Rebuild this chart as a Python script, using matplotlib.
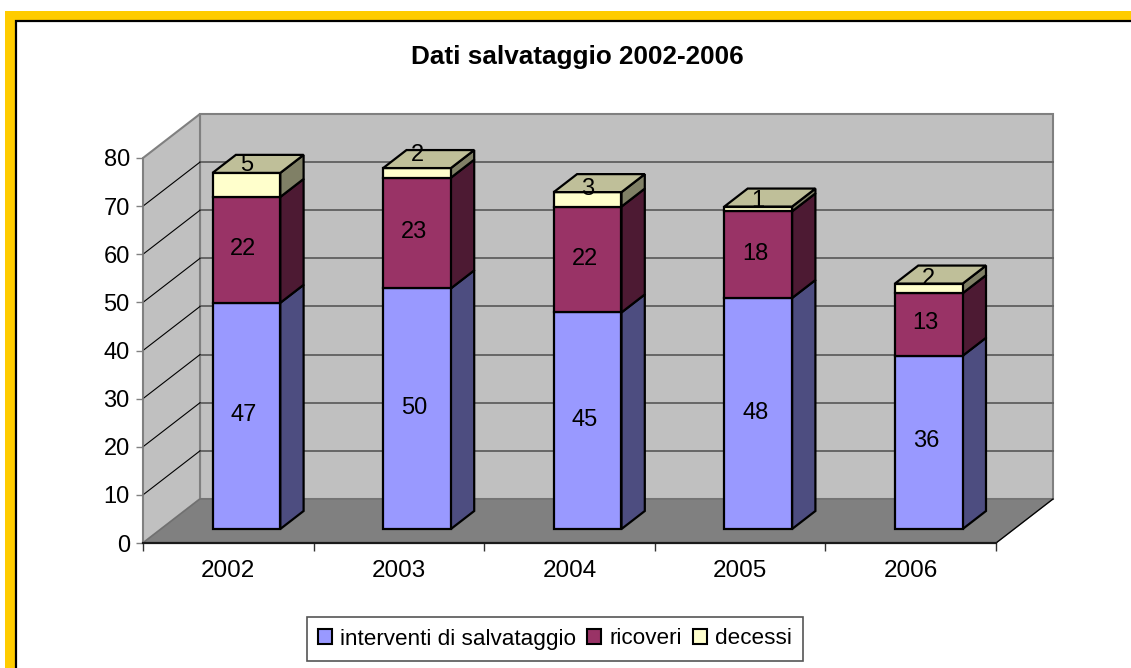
import matplotlib
matplotlib.use("Agg")
import matplotlib.pyplot as plt
from matplotlib.patches import Patch, Rectangle

plt.rcParams['font.family'] = ['Liberation Sans', 'DejaVu Sans']

years = ["2002", "2003", "2004", "2005", "2006"]
interventi = [47, 50, 45, 48, 36]
ricoveri = [22, 23, 22, 18, 13]
decessi = [5, 2, 3, 1, 2]
series_names = ["interventi di salvataggio", "ricoveri", "decessi"]
y_ticks = [0, 10, 20, 30, 40, 50, 60, 70, 80]

front_colors = ["#9999FF", "#993366", "#FFFFCC"]
side_colors = ["#4D4D80", "#4D1A33", "#808066"]
top_color = "#BFBF99"

W, H = 1131, 668
# oblique depth of the whole box, in data units of the front plane
DX = 57 / 170.6
DY = 44 / 4.81
BAR_W = 0.397
D0, D1 = 0.318, 0.727


def pt(x, y, depth=0.0):
    return x + depth * DX, y + depth * DY


def poly(ax, pts, color, edge=None, lw=0, z=1):
    ax.fill([p[0] for p in pts], [p[1] for p in pts], facecolor=color,
            edgecolor=edge if edge else color, linewidth=lw, zorder=z,
            clip_on=False, joinstyle="miter")


fig = plt.figure(figsize=(W / 100, H / 100), dpi=100)

# yellow frame behind everything
frame = fig.add_axes([0, 0, 1, 1])
frame.set_xlim(0, W)
frame.set_ylim(H, 0)
frame.axis("off")
frame.add_patch(Rectangle((5, 11), W, H, facecolor="#FFCC00", edgecolor="none"))
frame.add_patch(Rectangle((15.5, 20.5), W, H, facecolor="white", edgecolor="black", linewidth=1.6))

ax = fig.add_axes([143 / W, 1 - 543 / H, 853 / W, 385 / H])
ax.set_xlim(0, 5)
ax.set_ylim(0, 80)
ax.patch.set_visible(False)

# walls and floor
poly(ax, [pt(0, 0, 1), pt(5, 0, 1), pt(5, 80, 1), pt(0, 80, 1)], "#C0C0C0", "#808080", 1.5, 1)
poly(ax, [(0, 0), pt(0, 0, 1), pt(0, 80, 1), (0, 80)], "#C0C0C0", "#808080", 1.5, 1)
poly(ax, [(0, 0), (5, 0), pt(5, 0, 1), pt(0, 0, 1)], "#808080", "#707070", 1, 2)
ax.plot([5, pt(5, 0, 1)[0]], [0, pt(5, 0, 1)[1]], color="black", lw=0.9, zorder=3, clip_on=False)

for v in y_ticks[1:-1]:
    bx, by = pt(0, v, 1)
    ax.plot([0, bx], [v, by], color="black", lw=0.8, zorder=2, clip_on=False)
    ax.plot([bx, pt(5, v, 1)[0]], [by, by], color="#666666", lw=1.4, zorder=1.5, clip_on=False)

# stacked 3d bars, one category at a time
for i in range(len(years)):
    x0 = i + 0.5 - BAR_W / 2
    x1 = x0 + BAR_W
    base = 0
    values = [interventi[i], ricoveri[i], decessi[i]]
    for s, val in enumerate(values):
        y0, y1 = base, base + val
        z = 5 + s
        poly(ax, [pt(x1, y0, D0), pt(x1, y0, D1), pt(x1, y1, D1), pt(x1, y1, D0)],
             side_colors[s], "black", 1.6, z)
        poly(ax, [pt(x0, y0, D0), pt(x1, y0, D0), pt(x1, y1, D0), pt(x0, y1, D0)],
             front_colors[s], "black", 1.6, z)
        base = y1
    poly(ax, [pt(x0, base, D0), pt(x1, base, D0), pt(x1, base, D1), pt(x0, base, D1)],
         top_color, "black", 1.6, 8)

# value labels; Excel pushes the top series up onto the cap by varying amounts
lift_top = [20, 18, 10, 8, 9]
for i in range(len(years)):
    base = 0
    for s, vals in enumerate([interventi, ricoveri, decessi]):
        val = vals[i]
        lift = lift_top[i] if s == 2 else 1
        nudge_x = 0 if s == 2 else -3
        ax.annotate(str(val), pt(i + 0.5, base + val / 2, D0), xytext=(nudge_x, lift),
                    textcoords="offset pixels", ha="center", va="center",
                    fontsize=17, color="black", zorder=10, annotation_clip=False)
        base += val

ax.spines["top"].set_visible(False)
ax.spines["right"].set_visible(False)
ax.spines["left"].set_color("#808080")
ax.spines["left"].set_linewidth(1.2)
ax.spines["bottom"].set_color("#1a1a1a")
ax.spines["bottom"].set_linewidth(1.6)
ax.spines["left"].set_zorder(4)
ax.spines["bottom"].set_zorder(4)

ax.set_yticks(y_ticks)
ax.tick_params(axis="y", length=5, width=1, color="#808080", labelsize=17, pad=4.5)
ax.set_xticks(range(len(years) + 1))
ax.set_xticklabels([])
ax.set_xticks([i + 0.5 for i in range(len(years))], labels=years, minor=True)
ax.tick_params(axis="x", which="major", length=6, width=1, color="#333333")
ax.tick_params(axis="x", which="minor", length=0, labelsize=17.5, pad=12.5)

fig.text(577 / W, 1 - 57 / H, "Dati salvataggio 2002-2006", ha="center", va="center",
         fontsize=18.8, fontweight="bold")

handles = [Patch(facecolor=c, edgecolor="black", linewidth=1.5) for c in front_colors]
leg = fig.legend(handles, series_names, loc="center", bbox_to_anchor=(555 / W, 1 - 639 / H),
                 ncol=3, fontsize=16.2, frameon=True, fancybox=False, edgecolor="#555555",
                 framealpha=1, handlelength=0.62, handleheight=0.62, handletextpad=0.35,
                 columnspacing=0.5, borderpad=0.5)
leg.get_frame().set_linewidth(1.2)

fig.savefig("out.png", dpi=100)
